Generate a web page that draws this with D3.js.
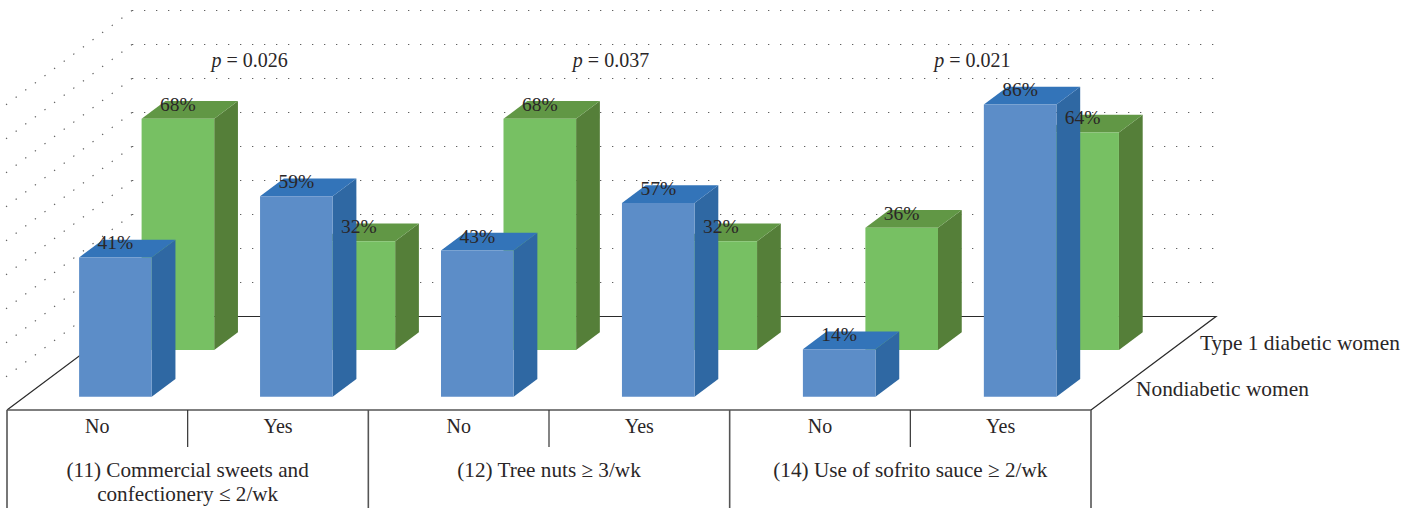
<!DOCTYPE html>
<html><head><meta charset="utf-8">
<script src="https://cdn.jsdelivr.net/npm/d3@7"></script>
<style>
html,body{margin:0;padding:0;background:#fff;overflow:hidden}
text{font-family:"Liberation Serif",serif;fill:#2a2627;font-size:20px}
.pct{font-size:19.5px}
.grp{font-size:21.2px}
.leg{font-size:21.4px}
</style></head><body>
<svg id="c" width="1420" height="508"></svg>
<script>
const answers = ["No","Yes","No","Yes","No","Yes"];
const groups = [
  ["(11) Commercial sweets and","confectionery ≤ 2/wk"],
  ["(12) Tree nuts ≥ 3/wk"],
  ["(14) Use of sofrito sauce ≥ 2/wk"]
];
const pValues = ["0.026","0.037","0.021"];
const seriesNames = ["Nondiabetic women","Type 1 diabetic women"];
const nondiabetic = [41,59,43,57,14,86];
const diabetic = [68,32,68,32,36,64];
const gridTicks = [0,10,20,30,40,50,60,70,80,90];

const W=1420,H=508;
const frontY=410, backY=316.5, frontX0=7, frontX1=1091;
const depthDX=125, depthDY=frontY-backY;
const colors=[{front:"#5c8dc8",top:"#3374b9",side:"#2f68a3"},
              {front:"#77c063",top:"#619745",side:"#557f39"}];

const x=d3.scaleBand().domain(d3.range(answers.length)).range([frontX0,frontX1]);
const xBar=d3.scaleBand().domain(d3.range(answers.length)).range([frontX0+0.3,frontX1+2]);
const barW=72.6, depthThick=0.19;
const z=d3.scaleBand().domain([0,1]).range([0,1]);
const h=d3.scaleLinear().domain([0,90]).range([0,306]);
// oblique projection: px along front edge, depth t (0..1), height px
const P=(px,t,hh)=>[px+t*depthDX, frontY-t*depthDY-hh];
const line=d3.line();
const svg=d3.select("#c");

// floor
svg.append("path").attr("d",line([P(frontX0,0,0),P(frontX0,1,0),P(frontX1,1,0),P(frontX1,0,0)]))
  .attr("fill","none").attr("stroke","#2b2b2b").attr("stroke-width",1.2);

// dotted gridlines: back wall and side wall
const grid=svg.append("g").attr("fill","none").attr("stroke","#606060").attr("stroke-width",1.2).attr("stroke-dasharray","1.3 10.7");
gridTicks.filter(d=>d>0).forEach(v=>{
  const hh=h(v);
  grid.append("path").attr("d",line([P(frontX0,1,hh),P(frontX1,1,hh)]));
  grid.append("path").attr("d",line([P(frontX0,1,hh),P(frontX0,-0.012,hh)]));
});

// bars, back series first
const seriesVals=[nondiabetic,diabetic];
const labels=[];
[1,0].forEach(s=>{
  const tc=z(s)+z.bandwidth()/2-0.014, t0=tc-depthThick/2, t1=tc+depthThick/2, c=colors[s];
  const g=svg.append("g");
  seriesVals[s].forEach((v,i)=>{
    const xl=xBar(i)+(xBar.bandwidth()-barW)/2, xr=xl+barW, hh=h(v);
    g.append("path").attr("fill",c.side).attr("d",line([P(xr,t0,0),P(xr,t1,0),P(xr,t1,hh),P(xr,t0,hh)])+"Z");
    g.append("path").attr("fill",c.top).attr("d",line([P(xl,t0,hh),P(xl,t1,hh),P(xr,t1,hh),P(xr,t0,hh)])+"Z");
    g.append("path").attr("fill",c.front).attr("d",line([P(xl,t0,0),P(xr,t0,0),P(xr,t0,hh),P(xl,t0,hh)])+"Z");
    const f=P((xl+xr)/2,t0,hh);
    labels.push({x:f[0],y:f[1]-8,t:v+"%"});
  });
});
svg.append("g").selectAll("text").data(labels).join("text").attr("class","pct")
  .attr("x",d=>d.x).attr("y",d=>d.y).attr("text-anchor","middle").text(d=>d.t);

// category table
const tbl=svg.append("g").attr("stroke","#555").attr("fill","none");
tbl.append("path").attr("d",line([[frontX0,frontY],[frontX1,frontY]])).attr("stroke-width",1.6);
d3.range(0,answers.length+1).forEach(i=>{
  const px=i<answers.length?x(i):frontX1;
  tbl.append("path").attr("stroke-width",i%2?1.2:1.6).attr("stroke",i%2?"#333":"#555")
    .attr("d",line([[px,frontY],[px,i%2?447:H]]));
});
svg.append("g").selectAll("text").data(answers).join("text")
  .attr("x",(d,i)=>x(i)+x.bandwidth()/2).attr("y",433).attr("text-anchor","middle").text(d=>d);
groups.forEach((ls,g)=>{
  const cx=x(g*2)+x.bandwidth();
  ls.forEach((l,j)=>svg.append("text").attr("class","grp").attr("x",cx).attr("y",476.5+j*24).attr("text-anchor","middle").text(l));
  const pt=svg.append("text").attr("x",cx+62).attr("y",67).attr("text-anchor","middle");
  pt.append("tspan").attr("font-style","italic").text("p");
  pt.append("tspan").text(" = "+pValues[g]);
});

// depth axis labels
const legendPos=[[1136,395.5],[1200,349.5]];
seriesNames.forEach((n,i)=>svg.append("text").attr("class","leg").attr("x",legendPos[i][0]).attr("y",legendPos[i][1]).text(n));
</script>
</body></html>
